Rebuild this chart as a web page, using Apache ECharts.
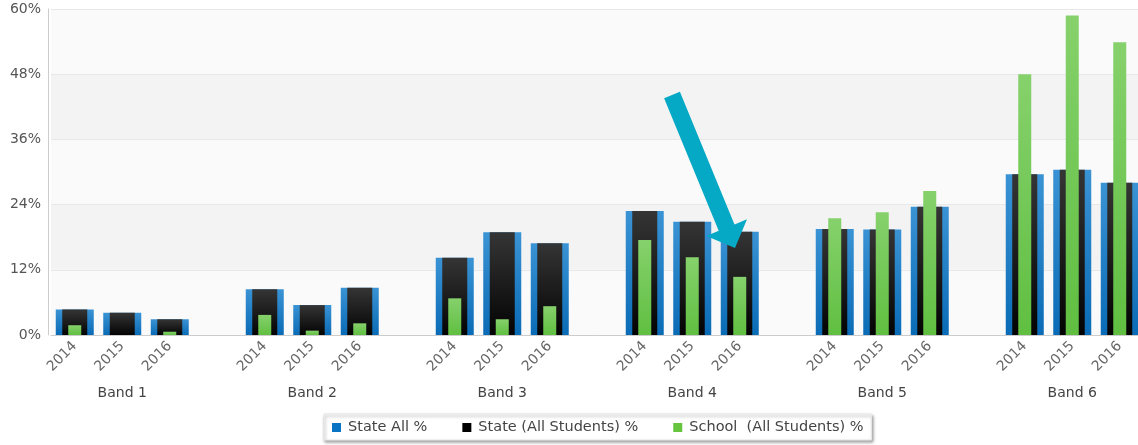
<!DOCTYPE html>
<html>
<head>
<meta charset="utf-8">
<script src="https://cdn.jsdelivr.net/npm/echarts@6/dist/echarts.min.js"></script>
<style>
  html, body { margin: 0; padding: 0; background: #ffffff; }
  #chart { width: 1138px; height: 445px; }
</style>
</head>
<body>
<div id="chart"></div>
<script>
// ---- data ----
var bands = ['Band 1', 'Band 2', 'Band 3', 'Band 4', 'Band 5', 'Band 6'];
var years = ['2014', '2015', '2016'];
var seriesNames = ['State All %', 'State (All Students) %', 'School  (All Students) %'];
var stateAll = [4.7, 4.1, 2.9, 8.4, 5.5, 8.7, 14.2, 18.9, 16.9, 22.8, 20.85, 19.0, 19.5, 19.4, 23.6, 29.6, 30.4, 28.0];
var stateAllStudents = [4.7, 4.1, 2.9, 8.4, 5.5, 8.7, 14.2, 18.9, 16.9, 22.8, 20.85, 19.0, 19.5, 19.4, 23.6, 29.6, 30.4, 28.0];
var school = [1.8, 0, 0.6, 3.7, 0.8, 2.15, 6.75, 2.9, 5.3, 17.5, 14.3, 10.7, 21.5, 22.6, 26.5, 48.0, 58.8, 53.9];
var yTicks = [0, 12, 24, 36, 48, 60];

// ---- build slotted categories (3 years + 1 gap per band) ----
var yearCats = [], bandCats = [];
function slotted(vals) {
  var out = [];
  bands.forEach(function (b, bi) {
    years.forEach(function (y, yi) { out.push(vals[bi * years.length + yi]); });
    out.push('-');
  });
  return out;
}
bands.forEach(function (b) {
  years.forEach(function (y, yi) {
    yearCats.push(y);
    bandCats.push(yi === 1 ? b : '');
  });
  yearCats.push('');
  bandCats.push('');
});

var FONT = 'DejaVu Sans';
var chart = echarts.init(document.getElementById('chart'), null, { renderer: 'canvas' });

function vgrad(top, bottom) {
  return new echarts.graphic.LinearGradient(0, 0, 0, 1, [
    { offset: 0, color: top }, { offset: 1, color: bottom }
  ]);
}

var hiddenX = function () {
  return {
    type: 'category', data: yearCats, boundaryGap: true, show: false,
    axisLine: { show: false }, axisTick: { show: false }, axisLabel: { show: false }
  };
};

var option = {
  animation: false,
  backgroundColor: '#ffffff',
  textStyle: { fontFamily: FONT },
  grid: { left: 51, top: 9, right: -53, bottom: 110, containLabel: false, outerBoundsMode: 'none' },
  legend: {
    left: 324, top: 414,
    padding: [6, 8, 5, 8],
    itemWidth: 9, itemHeight: 9, itemGap: 35,
    icon: 'rect',
    backgroundColor: '#ffffff',
    borderColor: '#e6e6e6', borderWidth: 1,
    shadowColor: 'rgba(0,0,0,0.35)', shadowBlur: 3, shadowOffsetX: 1, shadowOffsetY: 2,
    textStyle: { fontFamily: FONT, fontSize: 14.5, color: '#444', padding: [0, 0, 0, 2] },
    data: [
      { name: seriesNames[0], itemStyle: { color: '#0a74c4' } },
      { name: seriesNames[1], itemStyle: { color: '#000000' } },
      { name: seriesNames[2], itemStyle: { color: '#66c43f' } }
    ]
  },
  xAxis: [
    {
      type: 'category', data: yearCats, boundaryGap: true, position: 'bottom',
      axisLine: { show: true, lineStyle: { color: '#cccccc' } },
      axisTick: { show: false },
      axisLabel: { interval: 0, rotate: 45, margin: 9, fontFamily: FONT, fontSize: 14, color: '#666' }
    },
    {
      type: 'category', data: bandCats, boundaryGap: true, position: 'bottom',
      axisLine: { show: false }, axisTick: { show: false },
      axisLabel: { interval: 0, margin: 51, fontFamily: FONT, fontSize: 14, color: '#444' }
    },
    hiddenX(),
    hiddenX()
  ],
  yAxis: {
    type: 'value', min: yTicks[0], max: yTicks[yTicks.length - 1], interval: yTicks[1] - yTicks[0],
    offset: 3,
    axisLine: { show: true, lineStyle: { color: '#cccccc' } },
    axisTick: { show: false },
    axisLabel: { formatter: '{value}%', margin: 7, fontFamily: FONT, fontSize: 14, color: '#555' },
    splitLine: { show: true, lineStyle: { color: '#e8e8e8' } },
    splitArea: { show: true, areaStyle: { color: ['#fafafa', '#f3f3f3'] } }
  },
  series: [
    {
      name: seriesNames[0], type: 'bar', xAxisIndex: 0, barWidth: 38,
      data: slotted(stateAll),
      itemStyle: { color: vgrad('#3a93d4', '#0a6bb6') }
    },
    {
      name: seriesNames[1], type: 'bar', xAxisIndex: 2, barWidth: 25,
      data: slotted(stateAllStudents),
      itemStyle: { color: vgrad('#353535', '#030303') }
    },
    {
      name: seriesNames[2], type: 'bar', xAxisIndex: 3, barWidth: 13,
      data: slotted(school),
      itemStyle: { color: vgrad('#86d16c', '#60bf41') }
    }
  ],
  graphic: [
    {
      type: 'polygon', z: 100,
      shape: {
        points: [
          [679.9, 91.8], [734.5, 224.4], [747.0, 219.2], [735.0, 248.0],
          [706.3, 236.0], [718.7, 230.8], [664.1, 98.2]
        ]
      },
      style: { fill: '#05a9c5' }
    }
  ]
};
chart.setOption(option);
</script>
</body>
</html>
